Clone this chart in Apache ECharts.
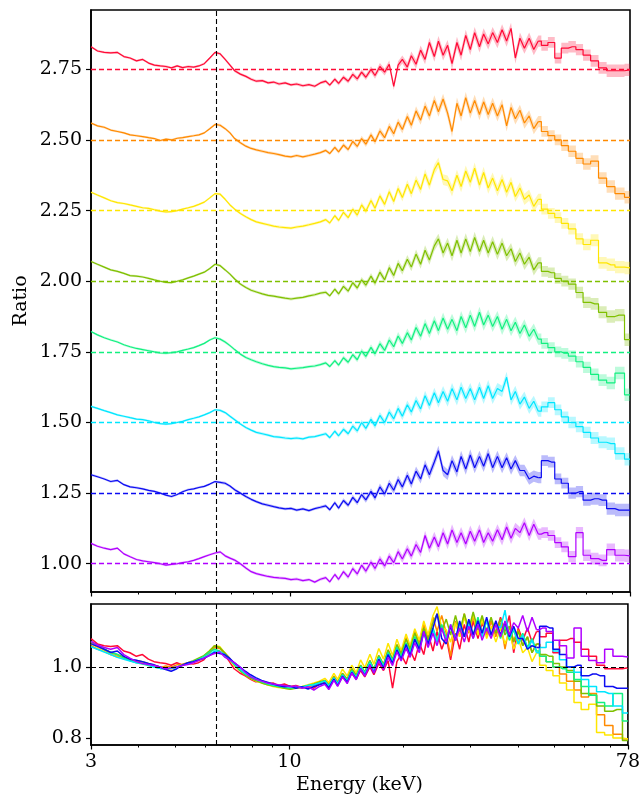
<!DOCTYPE html>
<html><head><meta charset="utf-8">
<script src="https://cdn.jsdelivr.net/npm/echarts@6/dist/echarts.min.js"></script>
<style>html,body{margin:0;padding:0;background:#fff}#c{width:643px;height:796px}</style>
</head><body><div id="c"></div>
<script>
const energy = [3.00,3.12,3.25,3.38,3.52,3.66,3.80,3.95,4.10,4.25,4.40,4.56,4.72,4.88,5.05,5.22,5.40,5.58,5.76,5.95,6.15,6.35,
6.55,6.75,6.95,7.15,7.40,7.65,7.90,8.15,8.45,8.75,9.05,9.35,9.70,10.05,10.4,10.8,11.2,11.6,12.0,
12.4,12.7,13.1,13.4,13.8,14.2,14.6,15.0,15.4,15.8,
16.3,16.7,17.2,17.7,18.2,18.7,19.2,19.7,20.3,20.8,
21.4,22.0,22.6,23.2,23.9,24.5,25.2,25.9,26.6,27.4,
28.1,28.9,29.7,30.5,31.4,32.2,33.1,34.0,35.0,36.0,
37.0,38.0,39.0,40.1,41.2,42.4,43.6,44.8,
46.5,48.5,50.5,52.5,55,57.5,60,63,66,69.5,73,78];

const errBar = [0.004,0.004,0.004,0.004,0.004,0.004,0.004,0.004,0.004,0.004,0.004,0.004,0.004,0.004,0.004,0.004,0.004,0.004,0.004,0.004,0.004,0.004,
0.005,0.005,0.005,0.005,0.005,0.005,0.005,0.005,0.005,0.005,0.005,0.005,0.005,0.005,0.005,0.005,0.005,0.005,0.005,
0.006,0.006,0.007,0.007,0.008,0.008,0.009,0.009,0.01,0.01,
0.011,0.011,0.012,0.012,0.013,0.013,0.014,0.014,0.015,0.015,
0.016,0.016,0.017,0.017,0.018,0.018,0.019,0.019,0.02,0.02,
0.02,0.02,0.02,0.02,0.02,0.02,0.02,0.02,0.02,0.02,
0.02,0.02,0.02,0.02,0.02,0.02,0.02,0.02,
0.019,0.019,0.019,0.019,0.02,0.02,0.02,0.021,0.021,0.022,0.022,0.022];

const ratioRed = [1.08,1.065,1.06,1.058,1.06,1.045,1.04,1.03,1.035,1.022,1.015,1.012,1.01,1.005,1.012,1.006,1.01,1.008,1.012,1.02,1.04,1.06,
1.055,1.035,1.015,0.995,0.983,0.975,0.965,0.958,0.96,0.952,0.955,0.948,0.952,0.945,0.948,0.942,0.946,0.94,0.952,
0.958,0.944,0.965,0.95,0.972,0.958,0.982,0.966,0.99,0.972,
1.0,0.978,1.01,0.99,1.018,0.94,1.015,1.035,1.008,1.048,
1.018,1.068,1.035,1.095,1.045,1.1,1.05,1.085,1.02,1.095,
1.05,1.12,1.07,1.13,1.08,1.125,1.09,1.13,1.095,1.14,
1.1,1.145,1.04,1.11,1.075,1.11,1.07,1.1,
1.085,1.095,1.04,1.075,1.08,1.07,1.05,1.03,1.005,0.995,0.995,0.998];

const ratioOrange = [1.06,1.05,1.045,1.035,1.03,1.025,1.018,1.015,1.012,1.008,1.005,0.998,1.003,1.0,1.006,1.008,1.012,1.015,1.018,1.025,1.04,1.055,
1.052,1.04,1.025,1.005,0.99,0.978,0.97,0.965,0.96,0.955,0.952,0.948,0.943,0.94,0.945,0.94,0.945,0.95,0.955,
0.963,0.952,0.974,0.958,0.982,0.966,0.995,0.977,1.005,0.985,
1.018,0.994,1.032,1.008,1.048,1.022,1.063,1.037,1.083,1.052,
1.103,1.07,1.12,1.085,1.14,1.1,1.145,1.095,1.03,1.13,
1.085,1.15,1.095,1.14,1.09,1.135,1.09,1.13,1.085,1.125,
1.05,1.115,1.075,1.105,1.06,1.085,1.04,1.065,
1.03,1.015,1.0,0.98,0.96,0.935,0.915,0.925,0.865,0.835,0.81,0.797];

const ratioYellow = [1.065,1.055,1.045,1.035,1.028,1.025,1.02,1.015,1.01,1.008,1.003,0.998,0.995,0.996,1.0,1.005,1.01,1.015,1.022,1.03,1.045,1.06,
1.058,1.04,1.02,1.005,0.99,0.978,0.968,0.96,0.955,0.95,0.945,0.942,0.94,0.938,0.942,0.945,0.95,0.955,0.96,
0.968,0.956,0.982,0.965,0.994,0.975,1.005,0.984,1.02,0.998,
1.036,1.008,1.052,1.022,1.067,1.032,1.078,1.046,1.093,1.06,
1.108,1.075,1.13,1.09,1.145,1.17,1.11,1.105,1.07,1.125,
1.085,1.14,1.1,1.15,1.09,1.135,1.08,1.115,1.07,1.11,
1.065,1.1,1.05,1.08,1.04,1.055,1.015,1.04,
1.005,0.99,0.975,0.955,0.935,0.9,0.88,0.895,0.815,0.808,0.8,0.797];

const ratioOlive = [1.07,1.06,1.05,1.04,1.035,1.028,1.02,1.018,1.015,1.01,1.005,1.0,0.996,0.995,1.0,1.005,1.012,1.018,1.025,1.032,1.045,1.06,
1.055,1.04,1.025,1.008,0.99,0.978,0.968,0.962,0.955,0.95,0.947,0.944,0.94,0.937,0.94,0.943,0.948,0.952,0.958,
0.961,0.948,0.972,0.955,0.982,0.965,0.995,0.976,1.005,0.986,
1.018,0.993,1.032,1.005,1.048,1.02,1.063,1.037,1.078,1.05,
1.096,1.06,1.11,1.075,1.125,1.15,1.1,1.135,1.09,1.145,
1.1,1.15,1.105,1.155,1.105,1.145,1.1,1.14,1.095,1.135,
1.09,1.115,1.07,1.1,1.06,1.085,1.04,1.065,
1.035,1.03,1.01,1.0,0.99,0.96,0.925,0.92,0.89,0.875,0.88,0.793];

const ratioGreen = [1.072,1.06,1.05,1.042,1.035,1.025,1.018,1.012,1.008,1.004,1.0,0.996,0.995,0.997,1.0,1.005,1.01,1.015,1.022,1.03,1.042,1.05,
1.045,1.035,1.022,1.008,0.992,0.98,0.972,0.965,0.958,0.952,0.948,0.945,0.943,0.94,0.942,0.944,0.948,0.95,0.955,
0.961,0.948,0.969,0.953,0.979,0.963,0.99,0.972,1.003,0.984,
1.016,0.993,1.029,1.005,1.042,1.018,1.056,1.03,1.068,1.042,
1.086,1.055,1.1,1.065,1.11,1.075,1.12,1.08,1.115,1.075,
1.125,1.085,1.13,1.09,1.14,1.095,1.13,1.09,1.125,1.08,
1.115,1.075,1.105,1.065,1.095,1.055,1.08,1.045,
1.03,1.015,1.0,0.995,0.985,0.965,0.945,0.92,0.9,0.89,0.925,0.848];

const ratioCyan = [1.057,1.05,1.042,1.035,1.027,1.022,1.017,1.012,1.01,1.006,1.0,0.996,0.994,0.996,1.0,1.004,1.01,1.015,1.02,1.027,1.035,1.045,
1.043,1.035,1.022,1.01,0.995,0.982,0.973,0.965,0.96,0.955,0.95,0.948,0.945,0.943,0.945,0.942,0.948,0.95,0.955,
0.96,0.946,0.969,0.953,0.976,0.96,0.987,0.97,1.0,0.979,
1.011,0.988,1.025,1.0,1.037,1.013,1.05,1.022,1.063,1.037,
1.078,1.048,1.095,1.06,1.105,1.07,1.11,1.075,1.12,1.08,
1.125,1.085,1.12,1.08,1.125,1.085,1.13,1.085,1.12,1.11,
1.16,1.08,1.11,1.065,1.09,1.05,1.075,1.04,
1.055,1.07,1.045,1.02,1.0,0.985,0.965,0.945,0.93,0.925,0.89,0.87];

const ratioBlue = [1.065,1.058,1.05,1.041,1.045,1.03,1.022,1.019,1.015,1.01,1.006,1.0,0.993,0.988,0.995,1.005,1.012,1.015,1.02,1.024,1.032,1.041,
1.038,1.035,1.025,1.012,1.0,0.988,0.978,0.97,0.962,0.957,0.952,0.948,0.944,0.946,0.94,0.944,0.938,0.945,0.95,
0.955,0.941,0.966,0.947,0.974,0.957,0.985,0.966,0.995,0.976,
1.006,0.983,1.022,0.997,1.035,1.01,1.048,1.022,1.063,1.032,
1.078,1.05,1.1,1.065,1.11,1.15,1.08,1.065,1.115,1.075,
1.13,1.085,1.135,1.09,1.13,1.095,1.14,1.09,1.13,1.09,
1.125,1.085,1.115,1.08,1.08,1.05,1.06,1.055,
1.115,1.11,1.05,1.035,1.0,1.005,0.975,0.98,0.975,0.945,0.94,0.94];

const ratioPurple = [1.072,1.062,1.055,1.05,1.055,1.035,1.025,1.015,1.01,1.007,1.004,1.0,0.995,0.998,1.0,1.004,1.007,1.012,1.018,1.025,1.032,1.038,
1.042,1.028,1.02,1.013,1.0,0.985,0.972,0.965,0.96,0.955,0.952,0.95,0.948,0.944,0.946,0.94,0.944,0.935,0.945,
0.951,0.936,0.962,0.945,0.972,0.953,0.983,0.964,0.995,0.974,
1.006,0.983,1.017,0.992,1.027,1.004,1.043,1.017,1.053,1.027,
1.068,1.04,1.1,1.055,1.095,1.06,1.11,1.07,1.12,1.075,
1.11,1.07,1.115,1.08,1.12,1.075,1.11,1.08,1.12,1.085,
1.13,1.09,1.125,1.11,1.145,1.1,1.14,1.105,
1.11,1.1,1.075,1.06,1.025,1.11,1.03,1.018,1.012,1.05,1.03,1.028];

const seriesColors = ['#ff0a36','#ff8a00','#ffe600','#7fc000','#12f080','#00e6ff','#0c0cf2','#b000ff'];
const offsets = [1.75, 1.5, 1.25, 1.0, 0.75, 0.5, 0.25, 0];
const topTicks = [1.00, 1.25, 1.50, 1.75, 2.00, 2.25, 2.50, 2.75];
const bottomTicks = [0.8, 1.0];
const xMajorTicks = [3.00001, 10, 77.9999];
const xMinorTicks = [4, 5, 6, 7, 8, 9, 20, 30, 40, 50, 60, 70];
const feLineEnergy = 6.4;
const wideBinStart = 88;   // index from which the bins are wide (drawn as steps)

const ratios = [ratioRed, ratioOrange, ratioYellow, ratioOlive, ratioGreen, ratioCyan, ratioBlue, ratioPurple];
const FONT = 'DejaVu Serif';
const chart = echarts.init(document.getElementById('c'), null, {renderer: 'canvas'});

function xAx(gridIndex, major, showLabel) {
  return {
    type: 'log', logBase: 10, min: 3, max: 78, gridIndex: gridIndex,
    position: 'bottom',
    axisLine: {show: major, lineStyle: {color: '#000', width: 1.6}},
    splitLine: {show: false},
    axisTick: {show: true, inside: false, length: major ? 4.5 : 2.5,
      lineStyle: {color: '#000', width: major ? 1.2 : 1},
      customValues: major ? xMajorTicks : xMinorTicks},
    axisLabel: {show: showLabel, customValues: xMajorTicks, margin: 8,
      formatter: v => String(Math.round(v)),
      fontFamily: FONT, fontSize: 19, color: '#000'},
    minorTick: {show: false}
  };
}

const xAxis = [xAx(0, true, false), xAx(0, false, false), xAx(1, true, true), xAx(1, false, false)];
xAxis[2].name = 'Energy (keV)';
xAxis[2].nameLocation = 'middle';
xAxis[2].nameGap = 31;
xAxis[2].nameMoveOverlap = false;
xAxis[2].nameTextStyle = {fontFamily: FONT, fontSize: 19, color: '#000'};

const yAxis = [
  {type: 'value', gridIndex: 0, min: 0.9, max: 2.96,
   name: 'Ratio', nameLocation: 'middle', nameGap: 60, nameMoveOverlap: false,
   nameTextStyle: {fontFamily: FONT, fontSize: 19, color: '#000'},
   axisLine: {show: true, lineStyle: {color: '#000', width: 1.6}},
   splitLine: {show: false},
   axisTick: {show: true, inside: false, length: 5, lineStyle: {color: '#000', width: 1.2}, customValues: topTicks},
   axisLabel: {customValues: topTicks, margin: 9, formatter: v => v.toFixed(2), fontFamily: FONT, fontSize: 19, color: '#000'}},
  {type: 'value', gridIndex: 1, min: 0.78, max: 1.1775,
   axisLine: {show: true, lineStyle: {color: '#000', width: 1.6}},
   splitLine: {show: false},
   axisTick: {show: true, inside: false, length: 5, lineStyle: {color: '#000', width: 1.2}, customValues: bottomTicks},
   axisLabel: {customValues: bottomTicks, margin: 9, formatter: v => v.toFixed(1), fontFamily: FONT, fontSize: 19, color: '#000'}}
];

// error band polygon: follows the line (straight between narrow bins, steps for wide bins)
function bandRenderer(r, off, col) {
  return function (params, api) {
    if (params.dataIndex !== 0) return null;
    const n = energy.length, up = [], lo = [];
    const px = k => api.coord([energy[k], r[k] + off])[0];
    for (let k = 0; k < n; k++) {
      const yu = api.coord([energy[k], r[k] + off + errBar[k]])[1];
      const yl = api.coord([energy[k], r[k] + off - errBar[k]])[1];
      const xc = px(k);
      if (k < wideBinStart) {
        up.push([xc, yu]); lo.push([xc, yl]);
      } else {
        const xl = k === wideBinStart ? xc : (px(k - 1) + xc) / 2;
        const xr = k === n - 1 ? xc : (xc + px(k + 1)) / 2;
        up.push([xl, yu], [xr, yu]); lo.push([xl, yl], [xr, yl]);
      }
    }
    return {type: 'polygon', shape: {points: up.concat(lo.reverse())},
      style: {fill: col, opacity: 0.28}, silent: true};
  };
}

const series = [];
const dashBlack = {color: '#000', type: [5, 3], width: 1.1};
ratios.forEach((r, i) => {
  const off = offsets[i], col = seriesColors[i];
  series.push({type: 'custom', coordinateSystem: 'cartesian2d', xAxisIndex: 0, yAxisIndex: 0, silent: true, z: 1,
    renderItem: bandRenderer(r, off, col),
    data: energy.map((e, k) => [e, r[k] + off - errBar[k], r[k] + off + errBar[k]]),
    encode: {x: 0, y: [1, 2]}});
  const mlData = [{yAxis: off + 1, lineStyle: {color: col, type: [5, 3], width: 1.3, opacity: 1}}];
  if (i === ratios.length - 1) mlData.push({xAxis: feLineEnergy, lineStyle: dashBlack});
  series.push({type: 'line', xAxisIndex: 0, yAxisIndex: 0, symbol: 'none', color: col,
    data: energy.slice(0, wideBinStart + 1).map((e, k) => [e, r[k] + off]),
    lineStyle: {color: col, width: 1.2}, z: 3,
    markLine: {silent: true, symbol: 'none', label: {show: false}, animation: false, data: mlData}});
  series.push({type: 'line', xAxisIndex: 0, yAxisIndex: 0, symbol: 'none', step: 'middle', color: col,
    data: energy.map((e, k) => [e, r[k] + off]).slice(wideBinStart),
    lineStyle: {color: col, width: 1.2}, z: 3});
});
ratios.forEach((r, i) => {
  const col = seriesColors[i];
  const s = {type: 'line', xAxisIndex: 2, yAxisIndex: 1, symbol: 'none', color: col,
    data: energy.slice(0, wideBinStart + 1).map((e, k) => [e, r[k]]), lineStyle: {color: col, width: 1.5}, z: 3};
  if (i === 0) s.markLine = {silent: true, symbol: 'none', label: {show: false}, animation: false,
    data: [{yAxis: 1.0, lineStyle: dashBlack}, {xAxis: feLineEnergy, lineStyle: dashBlack}]};
  series.push(s);
  series.push({type: 'line', xAxisIndex: 2, yAxisIndex: 1, symbol: 'none', step: 'middle', color: col,
    data: energy.map((e, k) => [e, r[k]]).slice(wideBinStart), lineStyle: {color: col, width: 1.5}, z: 3});
});

chart.setOption({
  animation: false,
  backgroundColor: '#fff',
  grid: [
    {left: 91, right: 13, top: 10, height: 582, show: true, borderColor: '#000', borderWidth: 1.6, backgroundColor: 'transparent'},
    {left: 91, right: 13, top: 604, height: 141, show: true, borderColor: '#000', borderWidth: 1.6, backgroundColor: 'transparent'}
  ],
  xAxis: xAxis,
  yAxis: yAxis,
  series: series
});
</script>
</body></html>
